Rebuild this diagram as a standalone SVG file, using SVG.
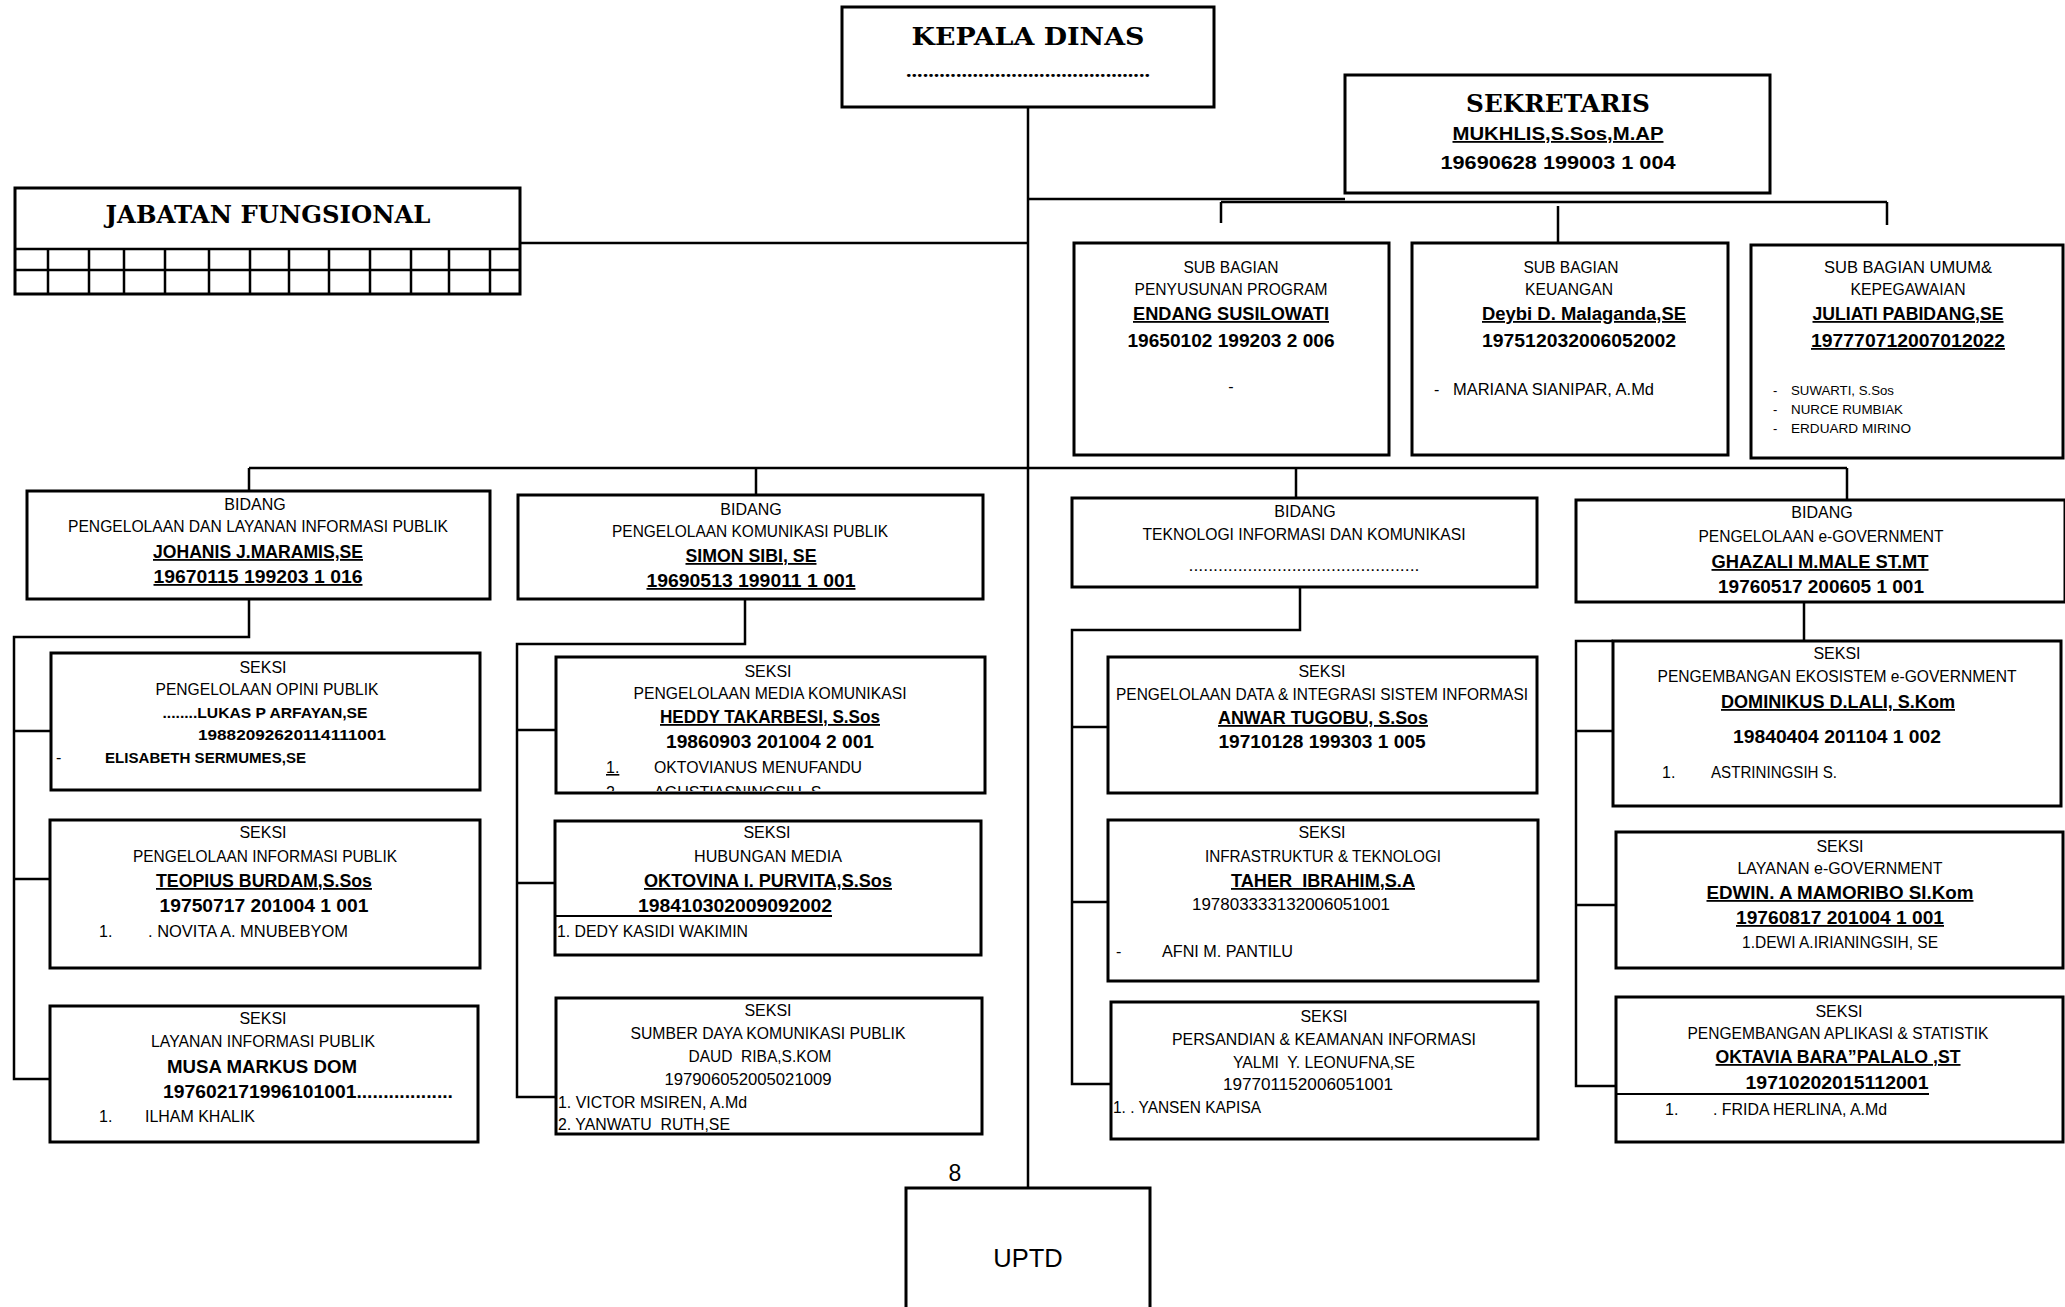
<svg xmlns="http://www.w3.org/2000/svg" width="2065" height="1307" viewBox="0 0 2065 1307">
<style>
.box{fill:#fff;stroke:#000;stroke-width:3}
.ln{fill:none;stroke:#000;stroke-width:2.5}
text{font-family:"Liberation Sans",Arial,sans-serif;font-size:16px;fill:#000}
.c{text-anchor:middle}
.b{font-weight:bold;font-size:18px}
.sb{font-weight:bold;font-size:15px}
.u{text-decoration:underline}
.sm{font-size:13px}
.h{font-family:"DejaVu Serif","Liberation Serif",serif;font-weight:bold;font-size:25px}
</style>
<defs>
<clipPath id="clip21"><rect x="556" y="657" width="429" height="134"/></clipPath>
</defs>
<rect width="2065" height="1307" fill="#fff"/>

<g id="connectors">
<path class="ln" d="M1028,107 V1188"/>
<path class="ln" d="M520,243 H1028"/>
<path class="ln" d="M1028,199 H1345"/>
<path class="ln" d="M1221,202 H1887"/>
<path class="ln" d="M1221,202 V223 M1558,206 V243 M1887,202 V225"/>
<path class="ln" d="M249,468 H1847"/>
<path class="ln" d="M249,468 V491 M756,468 V495 M1296,468 V498 M1847,468 V500"/>
<path class="ln" d="M249,599 V637 H14 V1079 H50 M14,731 H51 M14,879 H50"/>
<path class="ln" d="M745,599 V644 H517 V1097 H556 M517,730 H556 M517,883 H555"/>
<path class="ln" d="M1300,587 V630 H1072 V1084 H1111 M1072,727 H1108 M1072,902 H1108"/>
<path class="ln" d="M1804,602 V641 M1613,641 H1576 V1086 H1616 M1576,731 H1613 M1576,905 H1616"/>
</g>

<g id="kepala-dinas">
<rect class="box" x="842" y="7" width="372" height="100"/>
<text class="h c" x="1028" y="45" textLength="233" lengthAdjust="spacingAndGlyphs">KEPALA DINAS</text>
<text class="c" x="1028" y="77" style="font-family:'Liberation Serif',serif;font-weight:bold;font-size:18px" textLength="244" lengthAdjust="spacingAndGlyphs">............................................</text>
</g>

<g id="sekretaris">
<rect class="box" x="1345" y="75" width="425" height="118"/>
<text class="h c" x="1558" y="112" textLength="184" lengthAdjust="spacingAndGlyphs">SEKRETARIS</text>
<text class="b u c" x="1558" y="140" textLength="211" lengthAdjust="spacingAndGlyphs">MUKHLIS,S.Sos,M.AP</text>
<text class="b c" x="1558" y="169" textLength="235" lengthAdjust="spacingAndGlyphs">19690628 199003 1 004</text>
</g>

<g id="jabatan-fungsional">
<rect class="box" x="15" y="188" width="505" height="106"/>
<path class="ln" d="M15,249 H520 M15,270 H520 M48,249 V294 M89,249 V294 M124,249 V294 M165,249 V294 M209,249 V294 M250,249 V294 M289,249 V294 M329,249 V294 M370,249 V294 M411,249 V294 M449,249 V294 M490,249 V294"/>
<text class="h c" x="268" y="223" textLength="325" lengthAdjust="spacingAndGlyphs">JABATAN FUNGSIONAL</text>
</g>

<g id="subbag-program">
<rect class="box" x="1074" y="243" width="315" height="212"/>
<text class="c" x="1231" y="273" textLength="95" lengthAdjust="spacingAndGlyphs">SUB BAGIAN</text>
<text class="c" x="1231" y="295" textLength="193" lengthAdjust="spacingAndGlyphs">PENYUSUNAN PROGRAM</text>
<text class="b u c" x="1231" y="320" textLength="196" lengthAdjust="spacingAndGlyphs">ENDANG SUSILOWATI</text>
<text class="b c" x="1231" y="347" textLength="207" lengthAdjust="spacingAndGlyphs">19650102 199203 2 006</text>
<text class="c" x="1231" y="392">-</text>
</g>

<g id="subbag-keuangan">
<rect class="box" x="1412" y="243" width="316" height="212"/>
<text class="c" x="1571" y="273" textLength="95" lengthAdjust="spacingAndGlyphs">SUB BAGIAN</text>
<text class="c" x="1569" y="295" textLength="88" lengthAdjust="spacingAndGlyphs">KEUANGAN</text>
<text class="b u c" x="1584" y="320" textLength="204" lengthAdjust="spacingAndGlyphs">Deybi D. Malaganda,SE</text>
<text class="b c" x="1579" y="347" textLength="194" lengthAdjust="spacingAndGlyphs">197512032006052002</text>
<text x="1434" y="395">-</text>
<text x="1453" y="395" textLength="201" lengthAdjust="spacingAndGlyphs">MARIANA SIANIPAR, A.Md</text>
</g>

<g id="subbag-umum">
<rect class="box" x="1751" y="245" width="312" height="213"/>
<text class="c" x="1908" y="273" textLength="168" lengthAdjust="spacingAndGlyphs">SUB BAGIAN UMUM&amp;</text>
<text class="c" x="1908" y="295" textLength="115" lengthAdjust="spacingAndGlyphs">KEPEGAWAIAN</text>
<text class="b u c" x="1908" y="320" textLength="191" lengthAdjust="spacingAndGlyphs">JULIATI PABIDANG,SE</text>
<text class="b u c" x="1908" y="347" textLength="194" lengthAdjust="spacingAndGlyphs">197770712007012022</text>
<text class="sm" x="1773" y="395">-</text>
<text class="sm" x="1791" y="395" textLength="103" lengthAdjust="spacingAndGlyphs">SUWARTI, S.Sos</text>
<text class="sm" x="1773" y="414">-</text>
<text class="sm" x="1791" y="414" textLength="112" lengthAdjust="spacingAndGlyphs">NURCE RUMBIAK</text>
<text class="sm" x="1773" y="433">-</text>
<text class="sm" x="1791" y="433" textLength="120" lengthAdjust="spacingAndGlyphs">ERDUARD MIRINO</text>
</g>

<g id="bidang-plip">
<rect class="box" x="27" y="491" width="463" height="108"/>
<text class="c" x="255" y="510">BIDANG</text>
<text class="c" x="258" y="532" textLength="380" lengthAdjust="spacingAndGlyphs">PENGELOLAAN DAN LAYANAN INFORMASI PUBLIK</text>
<text class="b u c" x="258" y="558" textLength="210" lengthAdjust="spacingAndGlyphs">JOHANIS J.MARAMIS,SE</text>
<text class="b u c" x="258" y="583" textLength="209" lengthAdjust="spacingAndGlyphs">19670115 199203 1 016</text>
</g>

<g id="bidang-pkp">
<rect class="box" x="518" y="495" width="465" height="104"/>
<text class="c" x="751" y="515">BIDANG</text>
<text class="c" x="750" y="537" textLength="276" lengthAdjust="spacingAndGlyphs">PENGELOLAAN KOMUNIKASI PUBLIK</text>
<text class="b u c" x="751" y="562" textLength="131" lengthAdjust="spacingAndGlyphs">SIMON SIBI, SE</text>
<text class="b u c" x="751" y="587" textLength="209" lengthAdjust="spacingAndGlyphs">19690513 199011 1 001</text>
</g>

<g id="bidang-tik">
<rect class="box" x="1072" y="498" width="465" height="89"/>
<text class="c" x="1305" y="517">BIDANG</text>
<text class="c" x="1304" y="540" textLength="323" lengthAdjust="spacingAndGlyphs">TEKNOLOGI INFORMASI DAN KOMUNIKASI</text>
<text class="c" x="1304" y="571" textLength="231" lengthAdjust="spacingAndGlyphs">...............................................</text>
</g>

<g id="bidang-egov">
<rect class="box" x="1576" y="500" width="489" height="102"/>
<text class="c" x="1822" y="518">BIDANG</text>
<text class="c" x="1821" y="542" textLength="245" lengthAdjust="spacingAndGlyphs">PENGELOLAAN e-GOVERNMENT</text>
<text class="b u c" x="1820" y="568" textLength="217" lengthAdjust="spacingAndGlyphs">GHAZALI M.MALE ST.MT</text>
<text class="b c" x="1821" y="593" textLength="206" lengthAdjust="spacingAndGlyphs">19760517 200605 1 001</text>
</g>

<g id="seksi-opini">
<rect class="box" x="51" y="653" width="429" height="137"/>
<text class="c" x="263" y="673">SEKSI</text>
<text class="c" x="267" y="695" textLength="223" lengthAdjust="spacingAndGlyphs">PENGELOLAAN OPINI  PUBLIK</text>
<text class="sb c" x="265" y="718" textLength="205" lengthAdjust="spacingAndGlyphs">........LUKAS P ARFAYAN,SE</text>
<text class="sb c" x="292" y="740" textLength="188" lengthAdjust="spacingAndGlyphs">19882092620114111001</text>
<text x="56" y="763">-</text>
<text class="sb" x="105" y="763" textLength="201" lengthAdjust="spacingAndGlyphs">ELISABETH SERMUMES,SE</text>
</g>

<g id="seksi-pip">
<rect class="box" x="50" y="820" width="430" height="148"/>
<text class="c" x="263" y="838">SEKSI</text>
<text class="c" x="265" y="862" textLength="264" lengthAdjust="spacingAndGlyphs">PENGELOLAAN INFORMASI PUBLIK</text>
<text class="b u c" x="264" y="887" textLength="216" lengthAdjust="spacingAndGlyphs">TEOPIUS BURDAM,S.Sos</text>
<text class="b c" x="264" y="912" textLength="209" lengthAdjust="spacingAndGlyphs">19750717 201004 1 001</text>
<text x="99" y="937">1.</text>
<text x="148" y="937" textLength="200" lengthAdjust="spacingAndGlyphs">. NOVITA A. MNUBEBYOM</text>
</g>

<g id="seksi-lip">
<rect class="box" x="50" y="1006" width="428" height="136"/>
<text class="c" x="263" y="1024">SEKSI</text>
<text class="c" x="263" y="1047" textLength="224" lengthAdjust="spacingAndGlyphs">LAYANAN INFORMASI PUBLIK</text>
<text class="b c" x="262" y="1073" textLength="190" lengthAdjust="spacingAndGlyphs">MUSA MARKUS DOM</text>
<text class="b" x="163" y="1098" textLength="290" lengthAdjust="spacingAndGlyphs">197602171996101001..................</text>
<text x="99" y="1122">1.</text>
<text x="145" y="1122" textLength="110" lengthAdjust="spacingAndGlyphs">ILHAM KHALIK</text>
</g>

<g id="seksi-media-komunikasi">
<rect class="box" x="556" y="657" width="429" height="136"/>
<text class="c" x="768" y="677">SEKSI</text>
<text class="c" x="770" y="699" textLength="273" lengthAdjust="spacingAndGlyphs">PENGELOLAAN MEDIA KOMUNIKASI</text>
<text class="b u c" x="770" y="723" textLength="220" lengthAdjust="spacingAndGlyphs">HEDDY TAKARBESI, S.Sos</text>
<text class="b c" x="770" y="748" textLength="208" lengthAdjust="spacingAndGlyphs">19860903 201004 2 001</text>
<text class="u" x="606" y="773">1.</text>
<text x="654" y="773" textLength="208" lengthAdjust="spacingAndGlyphs">OKTOVIANUS MENUFANDU</text>
<g clip-path="url(#clip21)">
<text x="606" y="798">2.</text>
<text x="654" y="798" textLength="172" lengthAdjust="spacingAndGlyphs">AGUSTIASNINGSIH, S.</text>
</g>
</g>

<g id="seksi-hubungan-media">
<rect class="box" x="555" y="821" width="426" height="134"/>
<text class="c" x="767" y="838">SEKSI</text>
<text class="c" x="768" y="862" textLength="148" lengthAdjust="spacingAndGlyphs">HUBUNGAN MEDIA</text>
<text class="b u c" x="768" y="887" textLength="248" lengthAdjust="spacingAndGlyphs">OKTOVINA I. PURVITA,S.Sos</text>
<text class="b" x="638" y="912" textLength="194" lengthAdjust="spacingAndGlyphs">198410302009092002</text>
<path d="M555,916 H832" stroke="#000" stroke-width="2"/>
<text x="557" y="937" textLength="191" lengthAdjust="spacingAndGlyphs">1. DEDY KASIDI WAKIMIN</text>
</g>

<g id="seksi-sumber-daya">
<rect class="box" x="556" y="998" width="426" height="136"/>
<text class="c" x="768" y="1016">SEKSI</text>
<text class="c" x="768" y="1039" textLength="275" lengthAdjust="spacingAndGlyphs">SUMBER DAYA KOMUNIKASI PUBLIK</text>
<text class="c" x="760" y="1062" textLength="143" lengthAdjust="spacingAndGlyphs" xml:space="preserve">DAUD  RIBA,S.KOM</text>
<text class="c" x="748" y="1085" textLength="167" lengthAdjust="spacingAndGlyphs">197906052005021009</text>
<text x="558" y="1108" textLength="189" lengthAdjust="spacingAndGlyphs">1. VICTOR MSIREN, A.Md</text>
<text x="558" y="1130" textLength="172" lengthAdjust="spacingAndGlyphs" xml:space="preserve">2. YANWATU  RUTH,SE</text>
</g>

<g id="seksi-data">
<rect class="box" x="1108" y="657" width="429" height="136"/>
<text class="c" x="1322" y="677">SEKSI</text>
<text class="c" x="1322" y="700" textLength="412" lengthAdjust="spacingAndGlyphs">PENGELOLAAN DATA &amp; INTEGRASI SISTEM INFORMASI</text>
<text class="b u c" x="1323" y="724" textLength="210" lengthAdjust="spacingAndGlyphs">ANWAR TUGOBU, S.Sos</text>
<text class="b c" x="1322" y="748" textLength="207" lengthAdjust="spacingAndGlyphs">19710128 199303 1 005</text>
</g>

<g id="seksi-infrastruktur">
<rect class="box" x="1108" y="820" width="430" height="161"/>
<text class="c" x="1322" y="838">SEKSI</text>
<text class="c" x="1323" y="862" textLength="236" lengthAdjust="spacingAndGlyphs">INFRASTRUKTUR &amp; TEKNOLOGI</text>
<text class="b u c" x="1323" y="887" textLength="184" lengthAdjust="spacingAndGlyphs" xml:space="preserve">TAHER  IBRAHIM,S.A</text>
<text x="1192" y="910" textLength="198" lengthAdjust="spacingAndGlyphs">197803333132006051001</text>
<text x="1116" y="957">-</text>
<text x="1162" y="957" textLength="131" lengthAdjust="spacingAndGlyphs">AFNI M. PANTILU</text>
</g>

<g id="seksi-persandian">
<rect class="box" x="1111" y="1002" width="427" height="137"/>
<text class="c" x="1324" y="1022">SEKSI</text>
<text class="c" x="1324" y="1045" textLength="304" lengthAdjust="spacingAndGlyphs">PERSANDIAN &amp; KEAMANAN INFORMASI</text>
<text class="c" x="1324" y="1068" textLength="182" lengthAdjust="spacingAndGlyphs" xml:space="preserve">YALMI  Y. LEONUFNA,SE</text>
<text class="c" x="1308" y="1090" textLength="170" lengthAdjust="spacingAndGlyphs">197701152006051001</text>
<text x="1113" y="1113" textLength="148" lengthAdjust="spacingAndGlyphs">1. . YANSEN KAPISA</text>
</g>

<g id="seksi-ekosistem">
<rect class="box" x="1613" y="641" width="448" height="165"/>
<text class="c" x="1837" y="659">SEKSI</text>
<text class="c" x="1837" y="682" textLength="359" lengthAdjust="spacingAndGlyphs">PENGEMBANGAN EKOSISTEM e-GOVERNMENT</text>
<text class="b u c" x="1838" y="708" textLength="234" lengthAdjust="spacingAndGlyphs">DOMINIKUS D.LALI, S.Kom</text>
<text class="b c" x="1837" y="743" textLength="208" lengthAdjust="spacingAndGlyphs">19840404 201104 1 002</text>
<text x="1662" y="778">1.</text>
<text x="1711" y="778" textLength="126" lengthAdjust="spacingAndGlyphs">ASTRININGSIH S.</text>
</g>

<g id="seksi-layanan-egov">
<rect class="box" x="1616" y="832" width="447" height="136"/>
<text class="c" x="1840" y="852">SEKSI</text>
<text class="c" x="1840" y="874" textLength="205" lengthAdjust="spacingAndGlyphs">LAYANAN e-GOVERNMENT</text>
<text class="b u c" x="1840" y="899" textLength="267" lengthAdjust="spacingAndGlyphs">EDWIN. A MAMORIBO SI.Kom</text>
<text class="b u c" x="1840" y="924" textLength="208" lengthAdjust="spacingAndGlyphs">19760817 201004 1 001</text>
<text class="c" x="1840" y="948" textLength="196" lengthAdjust="spacingAndGlyphs">1.DEWI A.IRIANINGSIH, SE</text>
</g>

<g id="seksi-aplikasi">
<rect class="box" x="1616" y="997" width="447" height="145"/>
<text class="c" x="1839" y="1017">SEKSI</text>
<text class="c" x="1838" y="1039" textLength="301" lengthAdjust="spacingAndGlyphs">PENGEMBANGAN APLIKASI &amp; STATISTIK</text>
<text class="b u c" x="1838" y="1063" textLength="245" lengthAdjust="spacingAndGlyphs">OKTAVIA BARA”PALALO ,ST</text>
<text class="b c" x="1837" y="1089" textLength="183" lengthAdjust="spacingAndGlyphs">19710202015112001</text>
<path d="M1616,1094 H1929" stroke="#000" stroke-width="2"/>
<text x="1665" y="1115">1.</text>
<text x="1713" y="1115" textLength="174" lengthAdjust="spacingAndGlyphs">. FRIDA HERLINA, A.Md</text>
</g>

<g id="uptd">
<rect class="box" x="906" y="1188" width="244" height="140"/>
<text x="955" y="1181" style="font-size:23px" text-anchor="middle">8</text>
<text class="c" x="1028" y="1267" style="font-size:25.5px">UPTD</text>
</g>
</svg>
